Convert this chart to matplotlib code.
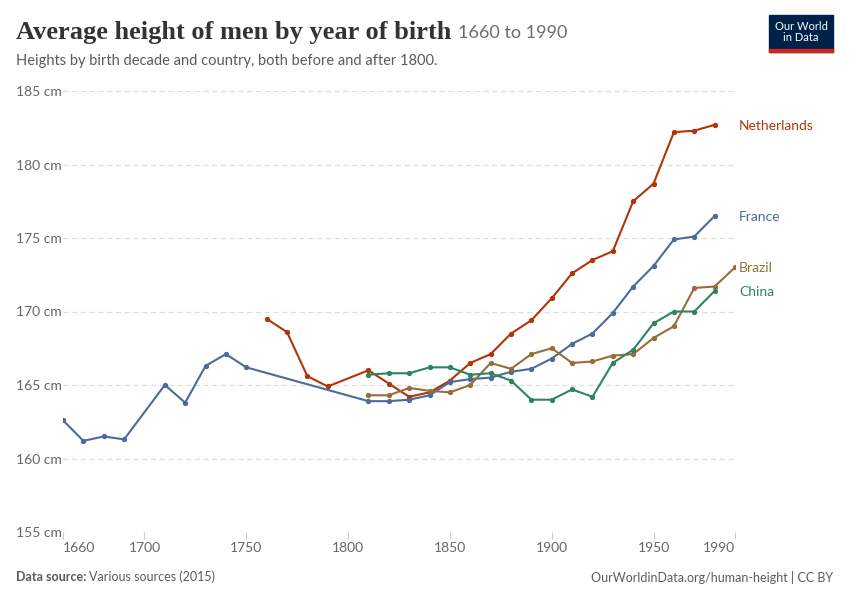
import matplotlib
matplotlib.use("Agg")
import matplotlib.pyplot as plt
from matplotlib.patches import Rectangle

plt.rcParams['font.family'] = ['Lato', 'DejaVu Sans']

# data (cm, by birth decade)
france_years = [1660, 1670, 1680, 1690, 1710, 1720, 1730, 1740, 1750,
                1810, 1820, 1830, 1840, 1850, 1860, 1870, 1880, 1890,
                1900, 1910, 1920, 1930, 1940, 1950, 1960, 1970, 1980]
france = [162.6, 161.2, 161.5, 161.3, 165.0, 163.8, 166.3, 167.1, 166.2,
          163.9, 163.9, 164.0, 164.3, 165.2, 165.4, 165.5, 165.9, 166.1,
          166.8, 167.8, 168.5, 169.9, 171.7, 173.1, 174.9, 175.1, 176.5]

nl_years = [1760, 1770, 1780, 1790, 1810, 1820, 1830, 1840, 1850, 1860,
            1870, 1880, 1890, 1900, 1910, 1920, 1930, 1940, 1950, 1960,
            1970, 1980]
netherlands = [169.5, 168.6, 165.6, 164.9, 166.0, 165.1, 164.2, 164.5, 165.3,
               166.5, 167.1, 168.5, 169.4, 170.9, 172.6, 173.5, 174.1, 177.5,
               178.7, 182.2, 182.3, 182.7]

brazil_years = [1810, 1820, 1830, 1840, 1850, 1860, 1870, 1880, 1890, 1900,
                1910, 1920, 1930, 1940, 1950, 1960, 1970, 1980, 1990]
brazil = [164.3, 164.3, 164.8, 164.6, 164.5, 165.0, 166.5, 166.1, 167.1, 167.5,
          166.5, 166.6, 167.0, 167.1, 168.2, 169.0, 171.6, 171.7, 173.0]

china_years = [1810, 1820, 1830, 1840, 1850, 1860, 1870, 1880, 1890, 1900,
               1910, 1920, 1930, 1940, 1950, 1960, 1970, 1980]
china = [165.7, 165.8, 165.8, 166.2, 166.2, 165.7, 165.8, 165.3, 164.0, 164.0,
         164.7, 164.2, 166.5, 167.4, 169.2, 170.0, 170.0, 171.4]

series = [
    ("Netherlands", nl_years, netherlands, "#b13507"),
    ("France", france_years, france, "#4c6a9c"),
    ("Brazil", brazil_years, brazil, "#996d39"),
    ("China", china_years, china, "#2c8465"),
]
label_y = {"Netherlands": 182.6, "France": 176.4, "Brazil": 172.95, "China": 171.35}

xticks = [1660, 1700, 1750, 1800, 1850, 1900, 1950, 1990]
yticks = [155, 160, 165, 170, 175, 180, 185]

fig = plt.figure(figsize=(8.5, 6), dpi=100)
ax = fig.add_axes([63/850, 1-532/600, (735-63)/850, (532-91)/600])

for name, xs, ys, col in series:
    ax.plot(xs, ys, color=col, lw=1.5, marker='o', ms=2.8, zorder=3)
    ax.text(1992, label_y[name], name, color=col, fontsize=10, va='center',
            ha='left', clip_on=False)

ax.set_xlim(1660, 1990)
ax.set_ylim(155, 185)

ax.set_yticks(yticks)
ax.set_yticklabels([f"{v} cm" for v in yticks], ha='left', color='#666666', fontsize=10)
ax.tick_params(axis='y', length=0, pad=33.8)
ax.yaxis.grid(True, color='#dddddd', linestyle=(0, (4, 3)), lw=0.9)
ax.set_axisbelow(True)

ax.set_xticks(xticks)
ax.set_xticklabels([str(v) for v in xticks], color='#666666', fontsize=10)
ax.tick_params(axis='x', length=5, color='#cccccc', width=0.8, pad=2)
labs = ax.get_xticklabels()
labs[0].set_ha('left')
labs[-1].set_ha('right')

for s in ax.spines.values():
    s.set_visible(False)

title = fig.text(16/850, 1-32/600, "Average height of men by year of birth", fontsize=19,
                 family=['Liberation Serif', 'DejaVu Serif'], weight='bold',
                 color='#333333', va='center')
fig.canvas.draw()
r = fig.canvas.get_renderer()
tb = title.get_window_extent(r)
fig.text((tb.x1 + 7)/850, 1-33/600, "1660 to 1990", fontsize=13, color='#6e6e6e',
         va='center')
fig.text(16/850, 1-61/600, "Heights by birth decade and country, both before and after 1800.",
         fontsize=10.5, color='#5b5b5b', va='center')

src = fig.text(16/850, 1-577/600, "Data source:", fontsize=9, color='#5b5b5b',
               weight='bold', va='center')
sb = src.get_window_extent(r)
fig.text((sb.x1 + 3)/850, 1-577/600, "Various sources (2015)", fontsize=9,
         color='#5b5b5b', va='center')
fig.text(833/850, 1-577/600, "OurWorldinData.org/human-height | CC BY", fontsize=9,
         color='#5b5b5b', ha='right', va='center')

# logo
fig.patches.append(Rectangle((769/850, 1-52/600), 64/850, 37/600,
                             transform=fig.transFigure, color='#002147'))
fig.patches.append(Rectangle((769/850, 1-52/600), 64/850, 3/600,
                             transform=fig.transFigure, color='#ce261e'))
fig.text(801/850, 1-32/600, "Our World\nin Data", fontsize=8, color='white',
         ha='center', va='center', linespacing=1.0)

fig.savefig("out.png", dpi=100)
